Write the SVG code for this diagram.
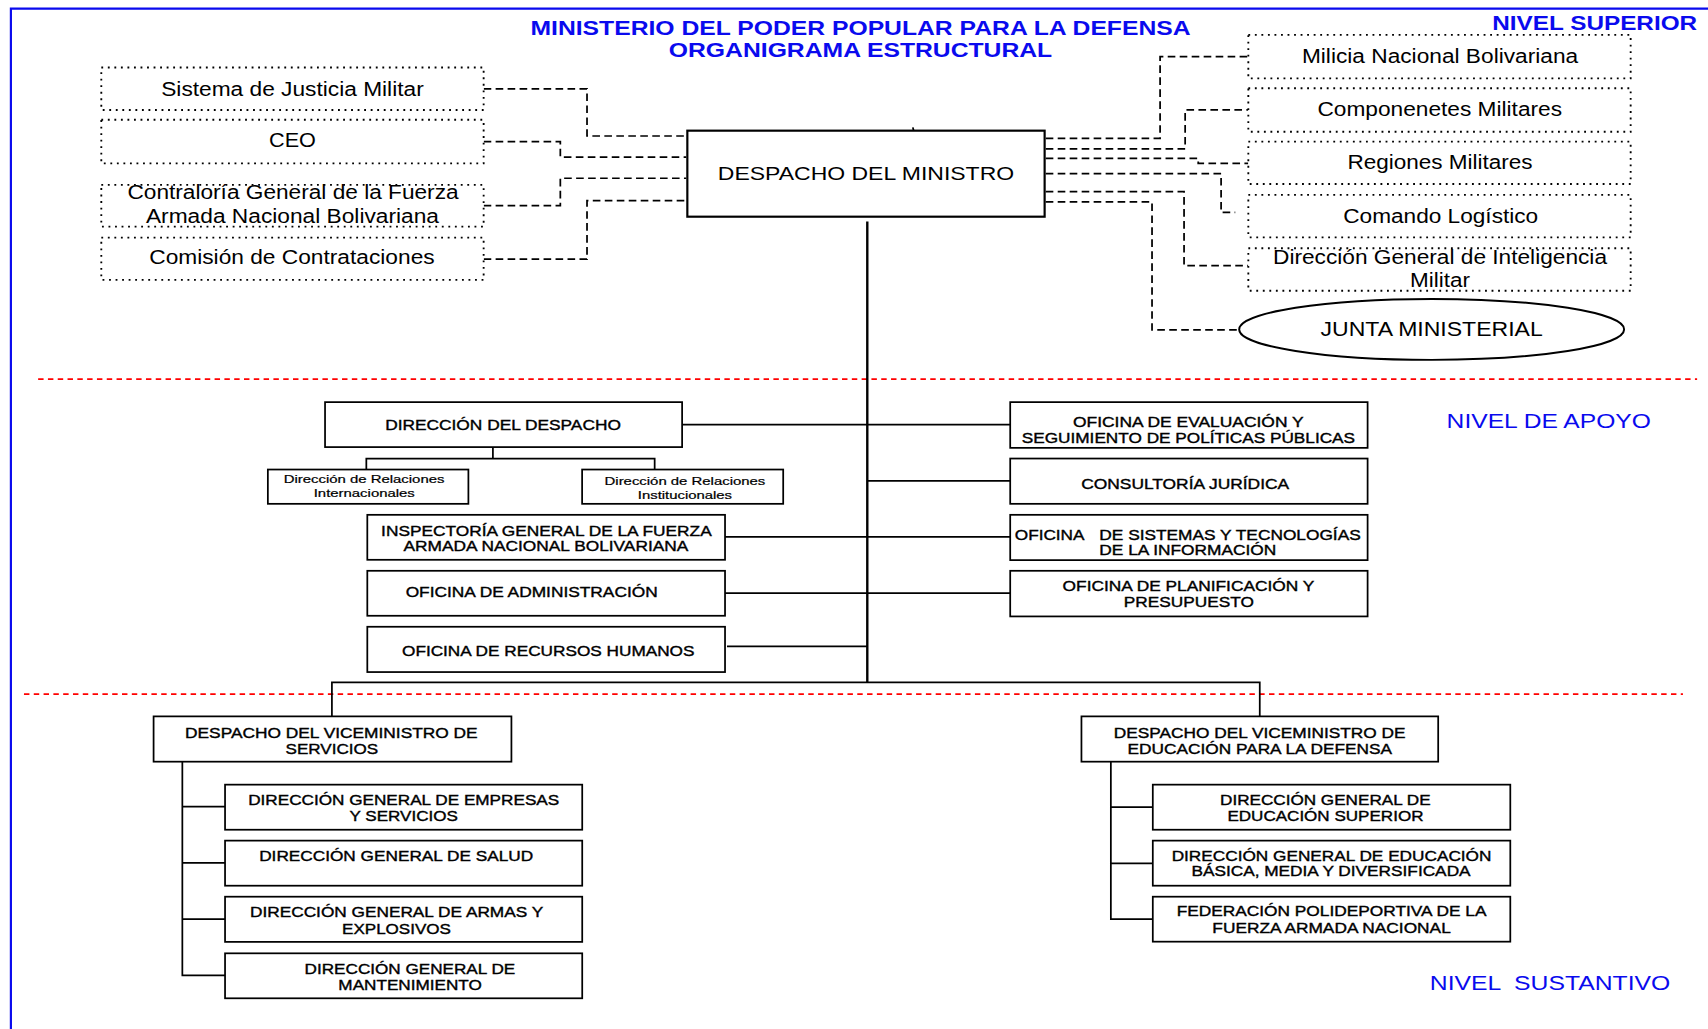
<svg xmlns="http://www.w3.org/2000/svg" width="1708" height="1029" viewBox="0 0 1708 1029">
<style>
.box{fill:#fff;stroke:#000;stroke-width:1.6}
.dot{fill:#fff;stroke:#000;stroke-width:1.7;stroke-dasharray:1.7 4.3}
.t{font-family:"Liberation Sans",Arial,sans-serif;fill:#000;text-anchor:middle}
.ts{font-family:"Liberation Sans",Arial,sans-serif;fill:#000;text-anchor:start}
.f18{font-size:18px}
.f17{font-size:17px}
.f13{font-size:13.5px;stroke:#000;stroke-width:0.35}
.f10{font-size:10.5px;stroke:#000;stroke-width:0.2}
.blue{fill:#0a0aee}
.b{font-weight:bold}
.conn{fill:none;stroke:#000;stroke-width:1.6}
.main{fill:none;stroke:#000;stroke-width:2.2}
.dash{fill:none;stroke:#000;stroke-width:1.6;stroke-dasharray:7 4}
.red{fill:none;stroke:#ff0000;stroke-width:1.5;stroke-dasharray:5 4}
</style>
<rect x="0" y="0" width="1708" height="1029" fill="#fff"/>
<g transform="scale(1.08929,1.08889)">
<g id="frame">
<path d="M10,945 V8 H1568" fill="none" stroke="#0a0aee" stroke-width="2"/>
<path class="red" d="M35,348.2 H1558"/>
<path class="red" d="M22,637.4 H1545"/>
</g>
<g id="titles">
<text class="t f18 b blue" x="790" y="32" textLength="606" lengthAdjust="spacingAndGlyphs">MINISTERIO DEL PODER POPULAR PARA LA DEFENSA</text>
<text class="t f18 b blue" x="790" y="52.6" textLength="352" lengthAdjust="spacingAndGlyphs">ORGANIGRAMA ESTRUCTURAL</text>
<text class="t f18 b blue" x="1464" y="27.5" textLength="188" lengthAdjust="spacingAndGlyphs">NIVEL SUPERIOR</text>
<text class="t f18 blue" x="1421.8" y="393.2" textLength="187.5" lengthAdjust="spacingAndGlyphs">NIVEL DE APOYO</text>
<text class="t f18 blue" x="1423" y="909.5" textLength="220.7" lengthAdjust="spacingAndGlyphs" xml:space="preserve">NIVEL  SUSTANTIVO</text>
</g>
<g id="connectors">
<path class="dash" d="M444,81.7 H538.9 V124.9 H630"/>
<path class="dash" d="M444,130 H514.4 V144.4 H630"/>
<path class="dash" d="M444,188.8 H514.4 V163.7 H630"/>
<path class="dash" d="M444,238 H538.9 V184.2 H630"/>
<path class="dash" d="M960,127 H1065 V52 H1146"/>
<path class="dash" d="M960,136.8 H1088 V101 H1146"/>
<path class="dash" d="M960,145.4 H1100 V150 H1146"/>
<path class="dash" d="M960,159.4 H1121 V195 H1134"/>
<path class="dash" d="M960,176 H1087 V244 H1146"/>
<path class="dash" d="M960,185.4 H1057.6 V303 H1137.6"/>
<path class="main" d="M796.2,203.5 V626.7"/>
<path class="conn" d="M838,117 L839,121"/>
<path class="conn" d="M304.7,657.9 V626.7 H1156.5 V657.9"/>
<path class="conn" d="M626.2,389.9 H927.4"/>
<path class="conn" d="M796.2,441.6 H927.4"/>
<path class="conn" d="M665.6,493 H927.4"/>
<path class="conn" d="M665.6,544.7 H927.4"/>
<path class="conn" d="M667.4,593.7 H796.2"/>
<path class="conn" d="M452.5,410.6 V421.1 M336.3,431.2 V421.1 H601 V431.2"/>
<path class="conn" d="M167.4,699.5 V895.7 H206.6 M167.4,740.8 H206.6 M167.4,792.5 H206.6 M167.4,844 H206.6"/>
<path class="conn" d="M1019.8,699.5 V844 H1058.3 M1019.8,741.2 H1058.3 M1019.8,792.9 H1058.3"/>
</g>
<g id="n-justicia">
<rect class="dot" x="93" y="62" width="351" height="39"/>
<text class="t f18" x="268.5" y="87.8" textLength="241" lengthAdjust="spacingAndGlyphs">Sistema de Justicia Militar</text>
</g>
<g id="n-ceo">
<rect class="dot" x="93" y="110" width="351" height="40"/>
<text class="t f18" x="268.5" y="135.2" textLength="43" lengthAdjust="spacingAndGlyphs">CEO</text>
</g>
<g id="n-contraloria">
<rect class="dot" x="93" y="169.8" width="351" height="38.3"/>
<text class="t f18" x="269" y="183" textLength="304" lengthAdjust="spacingAndGlyphs">Contraloría General de la Fuerza</text>
<text class="t f18" x="268.5" y="204.4" textLength="269" lengthAdjust="spacingAndGlyphs">Armada Nacional Bolivariana</text>
</g>
<g id="n-comision">
<rect class="dot" x="93" y="218.2" width="351" height="38.8"/>
<text class="t f18" x="268" y="242.4" textLength="262" lengthAdjust="spacingAndGlyphs">Comisión de Contrataciones</text>
</g>
<g id="n-ministro">
<rect class="box" x="631" y="120" width="328" height="79" style="stroke-width:2"/>
<text class="t f17" x="795" y="165.3" textLength="272" lengthAdjust="spacingAndGlyphs">DESPACHO DEL MINISTRO</text>
</g>
<g id="n-milicia">
<rect class="dot" x="1146" y="32" width="351" height="40"/>
<text class="t f18" x="1322" y="58" textLength="253.6" lengthAdjust="spacingAndGlyphs">Milicia Nacional Bolivariana</text>
</g>
<g id="n-componentes">
<rect class="dot" x="1146" y="81" width="351" height="40"/>
<text class="t f18" x="1321.7" y="106.5" textLength="224.6" lengthAdjust="spacingAndGlyphs">Componenetes Militares</text>
</g>
<g id="n-regiones">
<rect class="dot" x="1146" y="130" width="351" height="39"/>
<text class="t f18" x="1322" y="155.4" textLength="170" lengthAdjust="spacingAndGlyphs">Regiones Militares</text>
</g>
<g id="n-logistico">
<rect class="dot" x="1146" y="179" width="351" height="39"/>
<text class="t f18" x="1322.6" y="204.4" textLength="179" lengthAdjust="spacingAndGlyphs">Comando Logístico</text>
</g>
<g id="n-inteligencia">
<rect class="dot" x="1146" y="228" width="351" height="39"/>
<text class="t f18" x="1322" y="242.4" textLength="306.6" lengthAdjust="spacingAndGlyphs">Dirección General de Inteligencia</text>
<text class="t f18" x="1322" y="263.2" textLength="55" lengthAdjust="spacingAndGlyphs">Militar</text>
</g>
<g id="n-junta">
<ellipse cx="1314.3" cy="302.5" rx="176.7" ry="28" fill="#fff" stroke="#000" stroke-width="1.8"/>
<text class="t f18" x="1314.3" y="308.5" textLength="204" lengthAdjust="spacingAndGlyphs">JUNTA MINISTERIAL</text>
</g>
<g id="n-direccion-despacho">
<rect class="box" x="298.4" y="369.3" width="327.8" height="41.3"/>
<text class="t f13" x="461.8" y="394.7" textLength="216.4" lengthAdjust="spacingAndGlyphs">DIRECCIÓN DEL DESPACHO</text>
</g>
<g id="n-rel-int">
<rect class="box" x="245.9" y="431.2" width="184.1" height="31.5"/>
<text class="t f10" x="334.2" y="443.7" textLength="147.6" lengthAdjust="spacingAndGlyphs">Dirección de Relaciones</text>
<text class="t f10" x="334.4" y="456.6" textLength="92.8" lengthAdjust="spacingAndGlyphs">Internacionales</text>
</g>
<g id="n-rel-inst">
<rect class="box" x="534.4" y="431.2" width="184.6" height="31.5"/>
<text class="t f10" x="628.8" y="445.6" textLength="147.6" lengthAdjust="spacingAndGlyphs">Dirección de Relaciones</text>
<text class="t f10" x="628.8" y="458.1" textLength="86.5" lengthAdjust="spacingAndGlyphs">Institucionales</text>
</g>
<g id="n-inspectoria">
<rect class="box" x="337.2" y="472.8" width="328.4" height="41.3"/>
<text class="t f13" x="501.6" y="491.8" textLength="303.5" lengthAdjust="spacingAndGlyphs">INSPECTORÍA GENERAL DE LA FUERZA</text>
<text class="t f13" x="501.2" y="505.8" textLength="261.4" lengthAdjust="spacingAndGlyphs">ARMADA NACIONAL BOLIVARIANA</text>
</g>
<g id="n-administracion">
<rect class="box" x="337.2" y="524.2" width="328.4" height="41.3"/>
<text class="t f13" x="488.1" y="548.4" textLength="231.4" lengthAdjust="spacingAndGlyphs">OFICINA DE ADMINISTRACIÓN</text>
</g>
<g id="n-rrhh">
<rect class="box" x="337.2" y="575.6" width="328.4" height="41.6"/>
<text class="t f13" x="503.3" y="602.8" textLength="268.5" lengthAdjust="spacingAndGlyphs">OFICINA DE RECURSOS HUMANOS</text>
</g>
<g id="n-evaluacion">
<rect class="box" x="927.4" y="369.3" width="328.1" height="42"/>
<text class="t f13" x="1090.9" y="391.7" textLength="211.8" lengthAdjust="spacingAndGlyphs">OFICINA DE EVALUACIÓN Y</text>
<text class="t f13" x="1091" y="406.4" textLength="306" lengthAdjust="spacingAndGlyphs">SEGUIMIENTO DE POLÍTICAS PÚBLICAS</text>
</g>
<g id="n-consultoria">
<rect class="box" x="927.4" y="421.1" width="328.1" height="41.6"/>
<text class="t f13" x="1088" y="448.9" textLength="190.9" lengthAdjust="spacingAndGlyphs">CONSULTORÍA JURÍDICA</text>
</g>
<g id="n-sistemas">
<rect class="box" x="927.4" y="472.8" width="328.1" height="41.6"/>
<text class="ts f13" y="495.7"><tspan x="931.6" textLength="64" lengthAdjust="spacingAndGlyphs">OFICINA</tspan> <tspan x="1009.2" textLength="240" lengthAdjust="spacingAndGlyphs">DE SISTEMAS Y TECNOLOGÍAS</tspan></text>
<text class="ts f13" x="1009.2" y="510.1" textLength="162.4" lengthAdjust="spacingAndGlyphs">DE LA INFORMACIÓN</text>
</g>
<g id="n-planificacion">
<rect class="box" x="927.4" y="524.2" width="328.1" height="41.9"/>
<text class="t f13" x="1091" y="543.2" textLength="231" lengthAdjust="spacingAndGlyphs">OFICINA DE PLANIFICACIÓN Y</text>
<text class="t f13" x="1091.4" y="557.6" textLength="119.3" lengthAdjust="spacingAndGlyphs">PRESUPUESTO</text>
</g>
<g id="n-vice-servicios">
<rect class="box" x="141" y="657.9" width="328.5" height="41.6"/>
<text class="t f13" x="304.2" y="677.8" textLength="268.7" lengthAdjust="spacingAndGlyphs">DESPACHO DEL VICEMINISTRO DE</text>
<text class="t f13" x="304.7" y="692.2" textLength="85" lengthAdjust="spacingAndGlyphs">SERVICIOS</text>
</g>
<g id="n-empresas">
<rect class="box" x="206.6" y="720.6" width="327.9" height="41.4"/>
<text class="t f13" x="370.6" y="739" textLength="285.6" lengthAdjust="spacingAndGlyphs">DIRECCIÓN GENERAL DE EMPRESAS</text>
<text class="t f13" x="370.6" y="753.7" textLength="99.4" lengthAdjust="spacingAndGlyphs">Y SERVICIOS</text>
</g>
<g id="n-salud">
<rect class="box" x="206.6" y="772" width="327.9" height="41.4"/>
<text class="t f13" x="363.7" y="790.4" textLength="251.5" lengthAdjust="spacingAndGlyphs">DIRECCIÓN GENERAL DE SALUD</text>
</g>
<g id="n-armas">
<rect class="box" x="206.6" y="823.5" width="327.9" height="41.5"/>
<text class="t f13" x="364.1" y="842.1" textLength="269.2" lengthAdjust="spacingAndGlyphs">DIRECCIÓN GENERAL DE ARMAS Y</text>
<text class="t f13" x="364" y="857.4" textLength="100" lengthAdjust="spacingAndGlyphs">EXPLOSIVOS</text>
</g>
<g id="n-mantenimiento">
<rect class="box" x="206.6" y="875.5" width="327.9" height="41.3"/>
<text class="t f13" x="376.3" y="894.2" textLength="193.3" lengthAdjust="spacingAndGlyphs">DIRECCIÓN GENERAL DE</text>
<text class="t f13" x="376.5" y="908.8" textLength="131.7" lengthAdjust="spacingAndGlyphs">MANTENIMIENTO</text>
</g>
<g id="n-vice-educacion">
<rect class="box" x="992.8" y="657.9" width="327.5" height="41.6"/>
<text class="t f13" x="1156.4" y="677.8" textLength="267.7" lengthAdjust="spacingAndGlyphs">DESPACHO DEL VICEMINISTRO DE</text>
<text class="t f13" x="1156.5" y="692.2" textLength="242.7" lengthAdjust="spacingAndGlyphs">EDUCACIÓN PARA LA DEFENSA</text>
</g>
<g id="n-edu-superior">
<rect class="box" x="1058.3" y="720.6" width="328.2" height="41.4"/>
<text class="t f13" x="1216.7" y="739" textLength="193.3" lengthAdjust="spacingAndGlyphs">DIRECCIÓN GENERAL DE</text>
<text class="t f13" x="1216.8" y="753.7" textLength="180" lengthAdjust="spacingAndGlyphs">EDUCACIÓN SUPERIOR</text>
</g>
<g id="n-edu-basica">
<rect class="box" x="1058.3" y="772" width="328.2" height="41.4"/>
<text class="t f13" x="1222.4" y="790.4" textLength="293.6" lengthAdjust="spacingAndGlyphs">DIRECCIÓN GENERAL DE EDUCACIÓN</text>
<text class="t f13" x="1221.9" y="804.8" textLength="256.3" lengthAdjust="spacingAndGlyphs">BÁSICA, MEDIA Y DIVERSIFICADA</text>
</g>
<g id="n-federacion">
<rect class="box" x="1058.3" y="823.5" width="328.2" height="41.3"/>
<text class="t f13" x="1222.4" y="841.5" textLength="284.4" lengthAdjust="spacingAndGlyphs">FEDERACIÓN POLIDEPORTIVA DE LA</text>
<text class="t f13" x="1222.4" y="856.8" textLength="218.9" lengthAdjust="spacingAndGlyphs">FUERZA ARMADA NACIONAL</text>
</g>
</g>
</svg>
